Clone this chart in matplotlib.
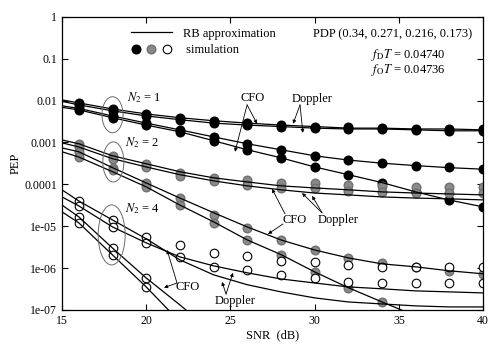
import matplotlib
matplotlib.use("Agg")
import matplotlib.pyplot as plt
from matplotlib.lines import Line2D
from matplotlib.legend_handler import HandlerTuple
from matplotlib.patches import Ellipse

# SNR grids (dB)
snr_line = [15, 16, 18, 20, 22, 24, 26, 28, 30, 32, 34, 36, 38, 40]
snr_sim = [16, 18, 20, 22, 24, 26, 28, 30, 32, 34, 36, 38, 40]

# N2 = 1, RB approximation
n1_line_a = [0.0104, 0.0088, 0.0063, 0.0048, 0.0039, 0.0033, 0.0029,
             0.0026, 0.0024, 0.0022, 0.0022, 0.0021, 0.0021, 0.0020]
n1_line_b = [0.0096, 0.0079, 0.0057, 0.0043, 0.0035, 0.0029, 0.0026,
             0.0024, 0.0022, 0.0021, 0.0021, 0.0020, 0.0019, 0.0019]
n1_line_c = [0.0075, 0.0065, 0.0043, 0.0029, 0.0020, 0.00136, 0.00093,
             0.00067, 0.00048, 0.00038, 0.00032, 0.00028, 0.00025, 0.00023]
n1_line_d = [0.0069, 0.0060, 0.0039, 0.0026, 0.0018, 0.0011, 0.00067,
             0.00043, 0.00026, 0.00017, 0.00011, 6.6e-5, 4.2e-5, 2.9e-5]
# N2 = 1, simulation
n1_sim_a = [0.0086, 0.0062, 0.0047, 0.0038, 0.0033, 0.0029, 0.0026,
            0.0024, 0.0023, 0.0022, 0.0021, 0.0021, 0.0021]
n1_sim_b = [0.0079, 0.0057, 0.0043, 0.0035, 0.0029, 0.0026, 0.0024,
            0.0022, 0.0021, 0.0021, 0.0020, 0.0019, 0.0019]
n1_sim_c = [0.0065, 0.0043, 0.0029, 0.0020, 0.00136, 0.00093, 0.00067,
            0.00048, 0.00038, 0.00032, 0.00028, 0.00026, 0.00023]
n1_sim_d = [0.0060, 0.0039, 0.0026, 0.0018, 0.0011, 0.00067, 0.00043,
            0.00026, 0.00017, 0.00011, 6.6e-5, 4.2e-5, 2.8e-5]

# N2 = 2, RB approximation
n2_line_a = [0.00115, 0.00093, 0.00048, 0.00031, 0.00020, 0.000143, 0.000114,
             9.2e-5, 8.2e-5, 7.4e-5, 6.6e-5, 6.2e-5, 5.9e-5, 5.6e-5]
n2_line_b = [0.00098, 0.00078, 0.00041, 0.00026, 0.00017, 0.000121, 9.2e-5,
             7.4e-5, 6.2e-5, 5.6e-5, 5.0e-5, 4.7e-5, 4.5e-5, 4.25e-5]
n2_line_c = [0.00074, 0.00060, 0.00025, 0.000108, 4.7e-5, 2.1e-5, 9.6e-6,
             4.7e-6, 2.7e-6, 1.75e-6, 1.26e-6, 1.07e-6, 8.6e-7, 7.3e-7]
snr_n2_d = [15, 16, 18, 20, 22, 24, 26, 28, 30, 32, 34, 36]
n2_line_d = [0.00060, 0.00045, 0.00020, 8.7e-5, 3.2e-5, 1.27e-5, 4.7e-6,
             2.1e-6, 8.1e-7, 3.4e-7, 1.55e-7, 7.2e-8]
# N2 = 2, simulation
n2_sim_a = [0.00093, 0.00048, 0.00031, 0.00019, 0.000143, 0.000128, 0.000108,
            0.000108, 9.7e-5, 9.2e-5, 8.7e-5, 8.7e-5, 8.7e-5]
n2_sim_b = [0.00078, 0.00041, 0.00026, 0.00016, 0.000121, 9.7e-5, 8.2e-5,
            8.2e-5, 7.0e-5, 6.6e-5, 6.2e-5, 6.2e-5, 6.2e-5]
n2_sim_c = [0.00060, 0.00025, 0.000108, 4.7e-5, 1.9e-5, 9.2e-6, 4.7e-6,
            2.7e-6, 1.75e-6, 1.3e-6, 1.07e-6, 8.4e-7, 7.3e-7]
snr_n2_sim_d = [16, 18, 20, 22, 24, 26, 28, 30, 32, 34]
n2_sim_d = [0.00045, 0.00022, 8.7e-5, 3.2e-5, 1.2e-5, 4.7e-6, 2.1e-6,
            8.1e-7, 3.4e-7, 1.55e-7]

# N2 = 4, RB approximation
n4_line_a = [5.0e-5, 3.05e-5, 9.6e-6, 4.0e-6, 1.85e-6, 1.13e-6, 7.7e-7,
             5.5e-7, 4.4e-7, 3.55e-7, 3.2e-7, 2.85e-7, 2.7e-7, 2.55e-7]
n4_line_b = [7.4e-5, 4.0e-5, 1.41e-5, 5.0e-6, 1.57e-6, 6.9e-7, 4.0e-7,
             2.7e-7, 1.94e-7, 1.55e-7, 1.39e-7, 1.25e-7, 1.18e-7, 1.18e-7]
snr_n4_c = [15, 16, 18, 20, 22, 24]
n4_line_c = [3.2e-5, 1.67e-5, 3.0e-6, 5.8e-7, 1.32e-7, 2.8e-8]
snr_n4_d = [15, 16, 18, 20, 22]
n4_line_d = [2.2e-5, 1.2e-5, 2.06e-6, 3.55e-7, 5.2e-8]
# N2 = 4, simulation
n4_sim_a = [4.0e-5, 1.41e-5, 5.5e-6, 3.6e-6, 2.3e-6, 1.95e-6, 1.48e-6,
            1.4e-6, 1.19e-6, 1.07e-6, 1.07e-6, 1.07e-6, 1.07e-6]
n4_sim_b = [3.05e-5, 9.6e-6, 4.0e-6, 1.85e-6, 1.07e-6, 9.0e-7, 6.9e-7,
            5.8e-7, 4.7e-7, 4.4e-7, 4.4e-7, 4.4e-7, 4.4e-7]
snr_n4_sim_cd = [16, 18, 20]
n4_sim_c = [1.67e-5, 3.0e-6, 5.8e-7]
n4_sim_d = [1.2e-5, 2.06e-6, 3.55e-7]

y_ticks = [1, 0.1, 0.01, 0.001, 0.0001, 1e-5, 1e-6, 1e-7]
y_tick_labels = ["1", "0.1", "0.01", "0.001", "0.0001",
                 "1e-05", "1e-06", "1e-07"]
x_ticks = [15, 20, 25, 30, 35, 40]

BLACK = dict(marker="o", ms=6.2, mfc="black", mec="black", ls="none")
GRAY = dict(marker="o", ms=6.2, mfc="#8a8a8a", mec="#707070", ls="none")
WHITE = dict(marker="o", ms=6.2, mfc="white", mec="black", mew=0.8,
             ls="none")


def arrows(ax, start, tips):
    for tip in tips:
        ax.annotate("", xy=tip, xytext=start,
                    arrowprops=dict(arrowstyle="-|>", lw=0.6, color="black",
                                    mutation_scale=5, shrinkA=0, shrinkB=0))


def main():
    plt.rcParams["font.family"] = ["Liberation Serif", "DejaVu Serif"]
    plt.rcParams["mathtext.fontset"] = "stix"
    plt.rcParams["font.size"] = 9

    fig = plt.figure(figsize=(4.88, 3.44), dpi=100)
    ax = fig.add_axes([0.127, 0.099, 0.863, 0.852])

    # simulation markers
    for vals in (n1_sim_a, n1_sim_b, n1_sim_c, n1_sim_d):
        ax.plot(snr_sim, vals, zorder=2, **BLACK)
    for vals in (n2_sim_a, n2_sim_b, n2_sim_c):
        ax.plot(snr_sim, vals, zorder=2, **GRAY)
    ax.plot(snr_n2_sim_d, n2_sim_d, zorder=2, **GRAY)
    for vals in (n4_sim_a, n4_sim_b):
        ax.plot(snr_sim, vals, zorder=2, **WHITE)
    for vals in (n4_sim_c, n4_sim_d):
        ax.plot(snr_n4_sim_cd, vals, zorder=2, **WHITE)

    # RB approximation lines
    line_kw = dict(color="black", lw=0.9, zorder=3)
    for vals in (n1_line_a, n1_line_b, n1_line_c, n1_line_d,
                 n2_line_a, n2_line_b, n2_line_c,
                 n4_line_a, n4_line_b):
        ax.plot(snr_line, vals, **line_kw)
    ax.plot(snr_n2_d, n2_line_d, **line_kw)
    ax.plot(snr_n4_c, n4_line_c, **line_kw)
    ax.plot(snr_n4_d, n4_line_d, **line_kw)

    ax.set_yscale("log")
    ax.set_xlim(15, 40)
    ax.set_ylim(1e-7, 1)
    ax.set_xticks(x_ticks)
    ax.set_yticks(y_ticks)
    ax.set_yticklabels(y_tick_labels)
    ax.minorticks_off()
    ax.tick_params(direction="in", top=True, right=True, length=4,
                   width=0.8, labelsize=8.5)
    for side in ax.spines.values():
        side.set_linewidth(0.9)
    ax.set_xlabel("SNR  (dB)", labelpad=2)
    ax.set_ylabel("PEP", labelpad=2)

    # ellipses around the N2 groups
    for center, w, h in (((0.120, 0.666), 0.050, 0.123),
                         ((0.122, 0.505), 0.050, 0.137),
                         ((0.118, 0.256), 0.064, 0.205)):
        ax.add_patch(Ellipse(center, w, h, transform=ax.transAxes,
                             fill=False, ec="#6a6a6a", lw=0.7, zorder=4))

    ax.text(18.86, 0.0116, r"$N_2$ = 1", va="center")
    ax.text(18.74, 0.00098, r"$N_2$ = 2", va="center")
    ax.text(18.74, 2.7e-5, r"$N_2$ = 4", va="center")

    # CFO / Doppler labels
    ax.text(26.3, 0.0116, "CFO", ha="center", va="center")
    arrows(ax, (25.99, 0.0079), [(26.58, 0.0028), (25.27, 0.0006)])
    ax.text(29.85, 0.011, "Doppler", ha="center", va="center")
    arrows(ax, (29.13, 0.0079), [(28.72, 0.0028), (29.3, 0.0017)])

    ax.text(28.84, 1.41e-5, "CFO", ha="center", va="center")
    arrows(ax, (28.24, 1.97e-5), [(27.47, 7.8e-5)])
    arrows(ax, (28.12, 1.13e-5), [(27.23, 6.5e-6)])
    ax.text(31.39, 1.41e-5, "Doppler", ha="center", va="center")
    arrows(ax, (30.44, 2.08e-5), [(29.25, 6.2e-5), (29.85, 5.3e-5)])

    ax.text(22.48, 3.55e-7, "CFO", ha="center", va="center")
    arrows(ax, (21.83, 4.4e-7), [(21.24, 2.7e-6), (21.06, 3.4e-7)])
    ax.text(25.27, 1.64e-7, "Doppler", ha="center", va="center")
    arrows(ax, (24.74, 2.4e-7), [(24.5, 4.67e-7), (25.15, 7.7e-7)])

    # top-right parameters
    ax.text(0.974, 0.939, "PDP (0.34, 0.271, 0.216, 0.173)",
            transform=ax.transAxes, ha="right", va="center")
    ax.text(0.91, 0.870, r"$f_{\mathrm{D}}T$ = 0.04740",
            transform=ax.transAxes, ha="right", va="center")
    ax.text(0.91, 0.819, r"$f_{\mathrm{O}}T$ = 0.04736",
            transform=ax.transAxes, ha="right", va="center")

    # legend
    line_handle = Line2D([], [], color="black", lw=0.9)
    sim_handle = (Line2D([], [], **BLACK), Line2D([], [], **GRAY),
                  Line2D([], [], **WHITE))
    ax.legend([line_handle, sim_handle], ["RB approximation", " simulation"],
              handler_map={tuple: HandlerTuple(ndivide=None, pad=0.4)},
              loc="upper left", bbox_to_anchor=(0.148, 0.985),
              frameon=False, handlelength=3.3, handletextpad=0.9,
              labelspacing=0.35, borderpad=0, fontsize=9)

    fig.savefig("out.png", dpi=100)


if __name__ == "__main__":
    main()
